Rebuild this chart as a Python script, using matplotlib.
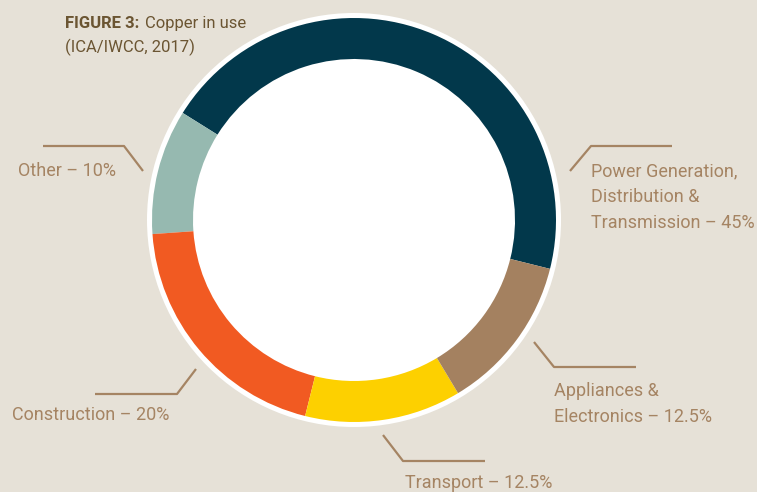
import matplotlib
matplotlib.use("Agg")
import matplotlib.pyplot as plt
from matplotlib.patches import Circle

# data (share of copper use, %)
labels = ["Power Generation,\nDistribution &\nTransmission \u2013 45%", "Other \u2013 10%",
          "Construction \u2013 20%", "Transport \u2013 12.5%",
          "Appliances &\nElectronics \u2013 12.5%"]
shares = [45, 10, 20, 12.5, 12.5]
colors = ["#02384B", "#96B9B0", "#F15A22", "#FDD000", "#A48160"]

W, H = 757, 492
BG = "#E6E1D7"
LABEL_C = "#A58463"
TITLE_C = "#6B5532"

plt.rcParams["font.family"] = ["Roboto", "DejaVu Sans"]

fig = plt.figure(figsize=(W / 100, H / 100), dpi=100, facecolor=BG)
ax = fig.add_axes([0, 0, 1, 1])


def Y(py):
    # pixel row from top -> axes y
    return H - py


cx, cy = 354, Y(220)
ax.add_patch(Circle((cx, cy), 207, facecolor="white", edgecolor="none", zorder=1))
ax.pie(shares, colors=colors, startangle=-14, counterclock=True,
       center=(cx, cy), radius=202, frame=True,
       wedgeprops=dict(width=41, linewidth=0, edgecolor="none", zorder=2))
ax.set_xlim(0, W)
ax.set_ylim(0, H)
ax.set_aspect("equal")
ax.axis("off")

# leader lines: start -> elbow -> end
leaders = [
    [(570, 171), (591, 146), (672, 146)],
    [(143, 171), (124, 146), (43, 146)],
    [(196, 369), (177, 394), (95, 394)],
    [(383, 435), (403, 461), (485, 461)],
    [(534, 342), (554, 367), (636, 367)],
]
for pts in leaders:
    ax.plot([p[0] for p in pts], [Y(p[1]) for p in pts], color=LABEL_C, lw=1.6,
            solid_capstyle="butt", zorder=3)

# label anchors (left x, centre of first line)
label_pos = [(591, 169), (18, 169), (12, 413), (405, 481), (554, 389)]
for txt, (lx, ly) in zip(labels, label_pos):
    for i, line in enumerate(txt.split("\n")):
        ax.text(lx, Y(ly + i * 26), line, ha="left", va="center_baseline",
                fontsize=13, color=LABEL_C, zorder=4)

ax.text(65, Y(22), "FIGURE 3:", fontsize=12, fontweight="bold", color=TITLE_C,
        va="center_baseline", ha="left")
ax.text(145, Y(22), "Copper in use", fontsize=12, color=TITLE_C,
        va="center_baseline", ha="left")
ax.text(65, Y(45), "(ICA/IWCC, 2017)", fontsize=12, color=TITLE_C,
        va="center_baseline", ha="left")

fig.savefig("out.png", dpi=100, facecolor=BG)
